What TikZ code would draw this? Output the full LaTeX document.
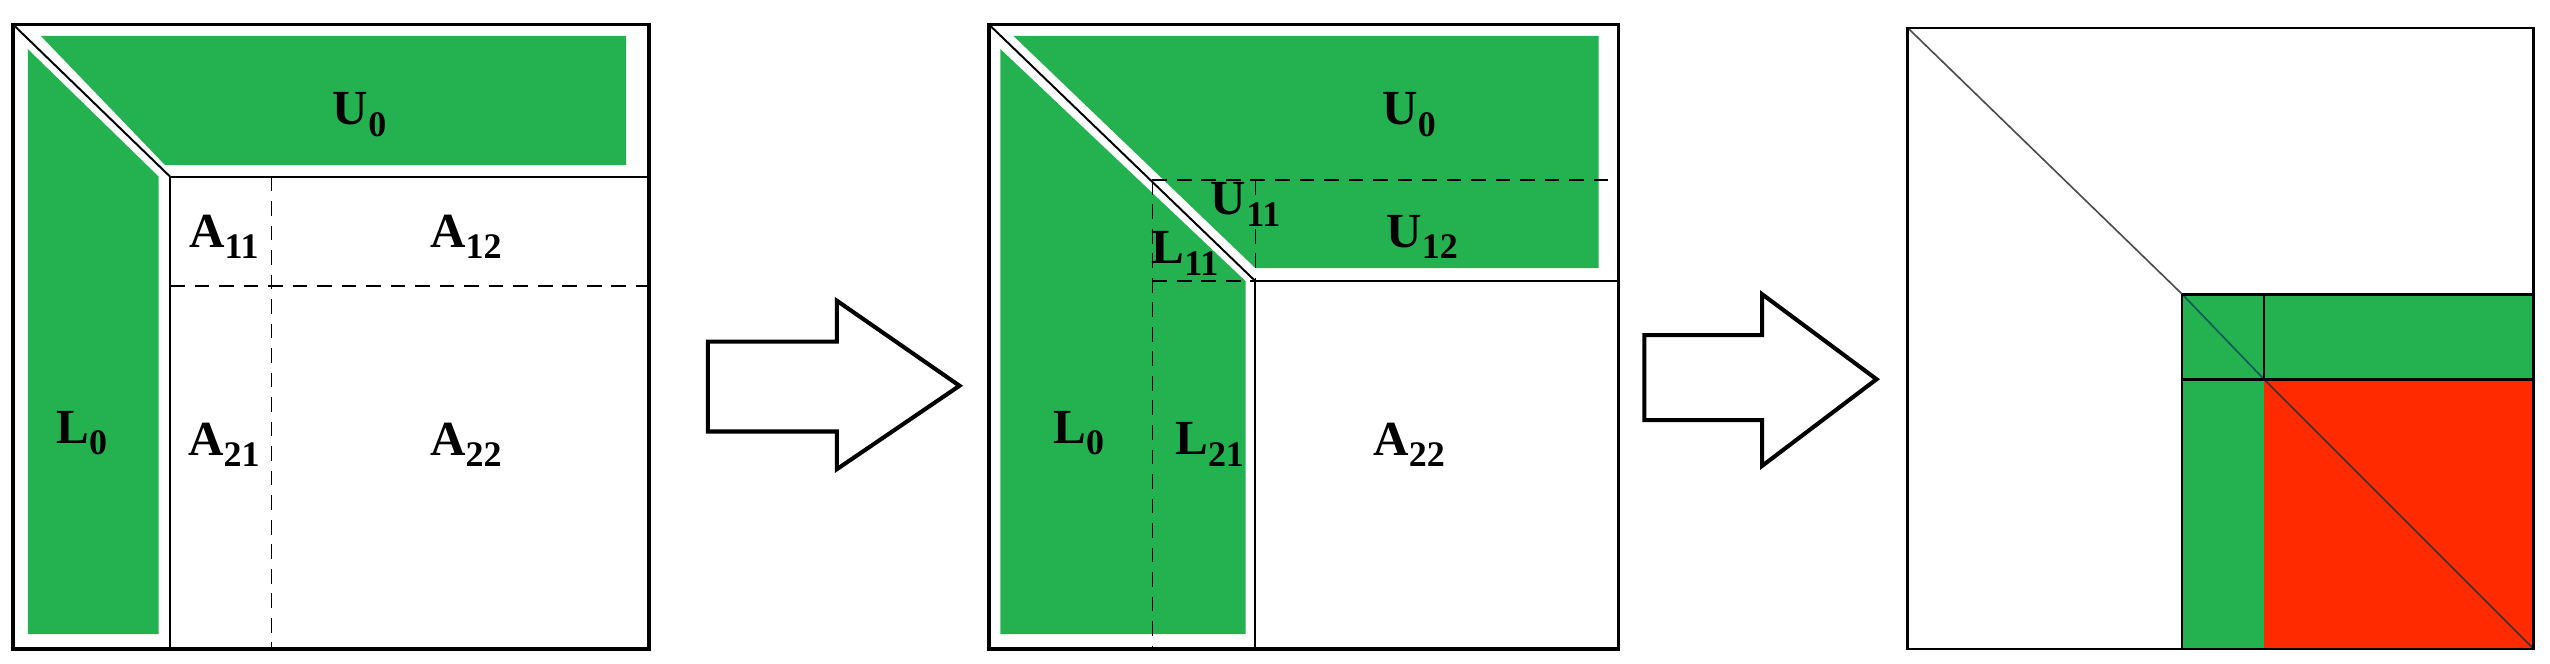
\documentclass[tikz,border=0pt]{standalone}
\usepackage{fontspec}
\setmainfont{Liberation Serif}
\begin{document}
\begin{tikzpicture}[x=1pt,y=-1pt,
  lbl/.style={font=\fontsize{30}{30}\selectfont\bfseries, inner sep=0pt},
  box/.style={draw=black, line width=2pt},
  thin/.style={draw=black, line width=1.2pt},
  dsh/.style={draw=black, line width=0.9pt, dash pattern=on 9pt off 6pt},
  arr/.style={draw=black, line width=2.5pt, fill=white, line join=miter}]
\definecolor{gr}{RGB}{36,177,80}
\definecolor{rd}{RGB}{255,42,0}
\newcommand{\sbs}[1]{\raisebox{-7pt}{\fontsize{22}{22}\selectfont #1}}
\useasboundingbox (0,0) rectangle (1560,406);
% ---------- panel 1
\fill[gr] (25,22) -- (383,22) -- (383,101) -- (101,101) -- cycle;
\fill[gr] (17,30) -- (97,108) -- (97,388) -- (17,388) -- cycle;
\draw[dsh] (166,108) -- (166,397);
\draw[dsh] (104,175) -- (397,175);
\draw[thin] (104,397) -- (104,108) -- (397,108);
\draw[thin] (8,15) -- (104,108);
\draw[box] (8,15) rectangle (397,397);
\node[lbl] (u0a) at (220,70) {U\sbs{0}};
\node[lbl] (a11) at (137,145) {A\sbs{11}};
\node[lbl] (a12) at (285,145) {A\sbs{12}};
\node[lbl] (l0a) at (50,265) {L\sbs{0}};
\node[lbl] (a21) at (137,272) {A\sbs{21}};
\node[lbl] (a22a) at (285,272) {A\sbs{22}};
% ---------- arrow 1
\draw[arr] (433,209) -- (512,209) -- (512,184) -- (587,236) -- (512,287) -- (512,264) -- (433,264) -- cycle;
% ---------- panel 2
\fill[gr] (620,22) -- (978,22) -- (978,164) -- (768,164) -- cycle;
\fill[gr] (612,30) -- (762,172) -- (762,388) -- (612,388) -- cycle;
\draw[dsh] (705,110) -- (990,110);
\draw[dsh] (705,110) -- (705,397);
\draw[dsh] (705,172) -- (768,172);
\draw[dsh] (768,110) -- (768,172);
\draw[thin] (768,397) -- (768,172) -- (990,172);
\draw[thin] (605,15) -- (768,172);
\draw[box] (605,15) rectangle (990,397);
\node[lbl] (u0b) at (862,70) {U\sbs{0}};
\node[lbl] (u11) at (762,125) {U\sbs{11}};
\node[lbl] (u12) at (870,145) {U\sbs{12}};
\node[lbl] (l11) at (725,155) {L\sbs{11}};
\node[lbl] (l0b) at (660,265) {L\sbs{0}};
\node[lbl] (l21) at (740,272) {L\sbs{21}};
\node[lbl] (a22b) at (862,272) {A\sbs{22}};
% ---------- arrow 2
\draw[arr] (1006,205) -- (1078,205) -- (1078,180) -- (1148,232) -- (1078,285) -- (1078,257) -- (1006,257) -- cycle;
% ---------- panel 3
\fill[gr] (1335,180) rectangle (1550,397);
\fill[rd] (1385,232) rectangle (1550,397);
\draw[black!70, line width=1pt] (1167,17) -- (1335,180);
\draw[teal!70!black, line width=1pt] (1335,180) -- (1385,232);
\draw[black!80, line width=1pt] (1385,232) -- (1550,397);
\draw[line width=1.6pt] (1335,180) -- (1550,180);
\draw[line width=1.6pt] (1335,232) -- (1550,232);
\draw[line width=1.6pt] (1385,180) -- (1385,232);
\draw[line width=1pt] (1335,180) -- (1335,397);
\draw[line width=1.5pt] (1167,17) rectangle (1550,397);
\end{tikzpicture}
\end{document}
